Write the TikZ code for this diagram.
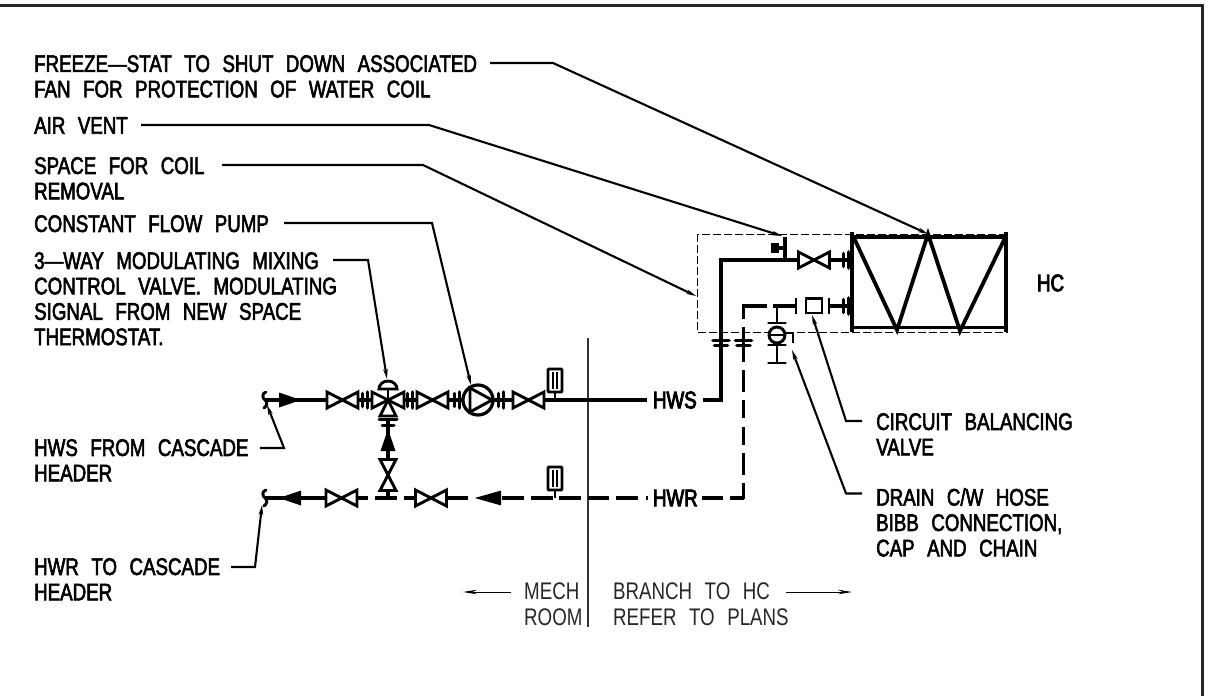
\documentclass[tikz,border=0pt]{standalone}
\usepackage{fontspec}
\usetikzlibrary{arrows.meta}
\newfontfamily\cadfont[FakeStretch=0.78,FakeBold=2.4,WordSpace=2.4]{Liberation Sans}
\newfontfamily\cadheavy[FakeStretch=0.78,FakeBold=3.6,WordSpace=2.4]{Liberation Sans}
\newfontfamily\cadthin[FakeStretch=0.78,WordSpace=2.4]{Liberation Sans}

\tikzset{
	gatevalve/.pic={
		\draw [symline, fill=white] (-15.5,-8) -- (15.5,8) -- (15.5,-8) -- (-15.5,8) -- cycle;
	},
	flange/.pic={
		\draw [line width=3.6pt, line cap=round] (-2.4,-6.5) -- (-2.4,6.5) (2.4,-8) -- (2.4,8);
	},
	flowarrow/.pic={
		\fill (-11,-7.5) -- (11,0) -- (-11,7.5) -- cycle;
	},
	gauge/.pic={
		\draw [symline] (0,0) -- (0,-8);
		\draw [symline, rounded corners=1pt, fill=white] (-7,-8) rectangle (7,-31);
		\draw [line width=1.6pt] (-2,-28) -- (-2,-11) (2,-28) -- (2,-11);
	},
	pipeend/.pic={
		\draw [symline, line cap=round] (1,-8) .. controls (-3,-7) and (-3,-2) .. (0,0) .. controls (3,2) and (2,6) .. (-1,8);
	},
	pumpsym/.pic={
		\draw [line width=3.2pt, fill=white] (0,0) circle (15);
		\draw [symline] (-8,-12) -- (14,0) -- (-8,12) -- cycle;
	},
	mixvalve/.pic={
		% dome, stem and the three ports
		\draw [symline, fill=white] (-16,-8) -- (0,0) -- (-16,8) -- cycle;
		\draw [symline, fill=white] (16,-8) -- (0,0) -- (16,8) -- cycle;
		\draw [symline, fill=white] (-8,16) -- (0,0) -- (8,16) -- cycle;
		\draw [symline] (0,0) -- (0,-11);
		\draw [symline, fill=white] (-9,-11) -- (9,-11) arc (0:180:9 and -8) -- cycle;
	},
	airvent/.pic={
		\draw [line width=3.4pt] (-7,-5) -- (-7,5) (-3,-5) -- (-3,5);
		\draw [line width=4pt] (-7,0) -- (5,0);
	},
	drainsym/.pic={
		\draw [symline, line cap=round] (-8.5,-12) -- (8.5,-12) (-8.5,10) -- (8.5,10) (0,10) -- (0,28) (-8.5,28) -- (8.5,28);
		\draw [symline] (0,-29) -- (0,-12);
		\draw [symline, fill=white] (0,0) circle (8);
		\draw [line width=2pt] (-8,0) -- (8,0);
		\draw [symline] (8,-2) -- (16,-2) -- (16,8);
	},
}

\begin{document}
\begin{tikzpicture}[
		x=1pt,
		y=-1pt,
		symline/.style={
			line width=2.9pt,
		},
		pipe/.style={
			line width=3.4pt,
		},
		coilline/.style={
			line width=3.8pt,
		},
		leader/.style={
			line width=2.1pt,
			-{Stealth[length=10pt,width=4.5pt]},
		},
		thinarrow/.style={
			line width=1pt,
			-{Stealth[length=14pt,width=4.5pt]},
		},
		note/.style={
			anchor=north west,
			inner sep=0pt,
			align=left,
			font=\cadfont\fontsize{24}{25.4}\selectfont,
		},
		pipelabel/.style={
			inner sep=0pt,
			outer xsep=6pt,
			anchor=west,
			font=\cadheavy\fontsize{24}{25.4}\selectfont,
		},
		zonelabel/.style={
			anchor=north west,
			inner sep=0pt,
			align=left,
			text=black!85,
			font=\cadthin\fontsize{24}{25.4}\selectfont,
		},
	]
	\useasboundingbox (0,0) rectangle (1209,696);

	% sheet border
	\draw [line width=3pt, black!85] (0,5) -- (1202,5) -- (1202,696);

	% notes
	\node [note] (freeze) at (34,55) {FREEZE—STAT TO SHUT DOWN ASSOCIATED\\FAN FOR PROTECTION OF WATER COIL};
	\node [note] (vent) at (34,117) {AIR VENT};
	\node [note] (space) at (34,157) {SPACE FOR COIL\\REMOVAL};
	\node [note] (pump) at (34,215) {CONSTANT FLOW PUMP};
	\node [note] (mix) at (34,252) {3—WAY MODULATING MIXING\\CONTROL VALVE. MODULATING\\SIGNAL FROM NEW SPACE\\THERMOSTAT.};
	\node [note] (fromhdr) at (34,439) {HWS FROM CASCADE\\HEADER};
	\node [note] (tohdr) at (34,558) {HWR TO CASCADE\\HEADER};
	\node [note] (cbv) at (876,413) {CIRCUIT BALANCING\\VALVE};
	\node [note] (drain) at (876,488) {DRAIN C/W HOSE\\BIBB CONNECTION,\\CAP AND CHAIN};
	\node [pipelabel] (hc) at (1031,283) {HC};
	\node [pipelabel] (hws) at (647,400) {HWS};
	\node [pipelabel] (hwr) at (647,498) {HWR};
	\node [zonelabel] (mech) at (524,583) {MECH\\ROOM};
	\node [zonelabel] (branch) at (613,583) {BRANCH TO HC\\REFER TO PLANS};

	% room divide
	\coordinate (divtop) at (588,338);
	\coordinate (divbot) at (588,627);
	\draw [line width=1.5pt, black!80] (divtop) -- (divbot);

	% space for coil and coil
	\draw [line width=1pt, dash pattern=on 8pt off 3pt] (697,234) rectangle (1007,332);
	\draw [line width=4.5pt] (852,232) -- (852,332) (1006,232) -- (1006,332);
	\draw [coilline] (852,237) -- (1006,237);
	\draw [line width=3pt] (852,327) -- (1006,327);
	\draw [coilline] (854,238) -- (897,330) -- (928,234) -- (960,331) -- (1005,238);

	% supply
	\coordinate (hwsin) at (265,400);
	\coordinate (hwsknee) at (721,400);
	\coordinate (hwsup) at (721,260);
	\coordinate (coilin) at (850,260);
	\coordinate (venttee) at (785,260);
	\coordinate (venttop) at (785,237);
	\draw [pipe] (hwsin) -- (hws.west);
	\draw [pipe] (hws.east) -- (hwsknee) -- (hwsup) -- (coilin);
	\draw [pipe] (venttee) -- (venttop);
	\pic at (780,248) {airvent};

	\pic at (290,400) {flowarrow};
	\pic at (265,400) {pipeend};
	\pic at (342.5,400) {gatevalve};
	\pic at (365,400) {flange};
	\pic at (388,400) {mixvalve};
	\pic at (410,400) {flange};
	\pic at (432.5,400) {gatevalve};
	\pic at (457,400) {flange};
	\pic at (478,400) {pumpsym};
	\pic at (501,400) {flange};
	\pic at (528.5,400) {gatevalve};
	\pic at (555,400) {gauge};
	\pic at (814,260) {gatevalve};
	\pic at (846,260) {flange};
	\pic [rotate=90] at (721,343) {flange};

	% mixing leg
	\coordinate (legtop) at (388,420);
	\coordinate (legbot) at (388,498);
	\draw [pipe] (legtop) -- (legbot);
	\draw [line width=3pt, line cap=round] (379,419) -- (397,419);
	\draw [line width=3pt, line cap=round] (382,425) -- (394,425);
	\pic [rotate=90] at (388,440) {flowarrow};
	\pic [rotate=90] at (388,475) {gatevalve};
	\draw [symline] (378,491) -- (398,491);

	% return
	\coordinate (hwrout) at (265,498);
	\draw [pipe] (hwrout) -- (326,498);
	\foreach \a/\b in {357/368,375/397,404/415,447/468,502/524,531/553,559/581,588/609,616/638,646/648,702/723,730/744}
		\draw [pipe] (\a,498) -- (\b,498);
	\foreach \a/\b in {305/319,327/362,370/392,400/418,427/445,453/475,483/499}
		\draw [pipe] (743.5,\a) -- (743.5,\b);
	\draw [pipe] (742,306) -- (767,306);
	\draw [pipe] (773,306) -- (796,306);
	\draw [symline] (796,298) -- (796,314);
	\draw [symline] (829,298) -- (829,314);
	\draw [pipe] (829,306) -- (850,306);
	\pic at (846,306) {flange};
	\pic [rotate=90] at (743.5,343) {flange};
	\draw [symline] (806,298.5) rectangle (822,313);
	\pic at (777,335) {drainsym};

	\pic [rotate=180] at (290,498) {flowarrow};
	\pic at (265,498) {pipeend};
	\pic at (341.5,498) {gatevalve};
	\pic at (431,498) {gatevalve};
	\pic [rotate=180, xscale=1.2] at (488,498) {flowarrow};
	\pic at (555,498) {gauge};

	% leaders
	\coordinate (freezea) at (490,63);
	\coordinate (freezeb) at (553,63);
	\coordinate (freezec) at (928,234);
	\draw [leader] (freezea) -- (freezeb) -- (freezec);
	\coordinate (venta) at (141,125);
	\coordinate (ventb) at (429,125);
	\coordinate (ventc) at (782,236);
	\draw [leader] (venta) -- (ventb) -- (ventc);
	\coordinate (spacea) at (222,165);
	\coordinate (spaceb) at (423,165);
	\coordinate (spacec) at (696,296);
	\draw [leader] (spacea) -- (spaceb) -- (spacec);
	\coordinate (pumpa) at (284,223);
	\coordinate (pumpb) at (432,223);
	\coordinate (pumpc) at (471,385);
	\draw [leader] (pumpa) -- (pumpb) -- (pumpc);
	\coordinate (mixa) at (333,260);
	\coordinate (mixb) at (368,260);
	\coordinate (mixc) at (387,379);
	\draw [leader] (mixa) -- (mixb) -- (mixc);
	\coordinate (froma) at (260,448);
	\coordinate (fromb) at (284,448);
	\coordinate (fromc) at (267,405);
	\draw [leader] (froma) -- (fromb) -- (fromc);
	\coordinate (toa) at (231,567);
	\coordinate (tob) at (255,567);
	\coordinate (toc) at (262,505);
	\draw [leader] (toa) -- (tob) -- (toc);
	\coordinate (cbva) at (862,421);
	\coordinate (cbvb) at (846,421);
	\coordinate (cbvc) at (812,315);
	\draw [leader] (cbva) -- (cbvb) -- (cbvc);
	\coordinate (draina) at (862,493.5);
	\coordinate (drainb) at (846,493.5);
	\coordinate (drainc) at (792,350);
	\draw [leader] (draina) -- (drainb) -- (drainc);

	% zone arrows
	\coordinate (mechtail) at (511,592);
	\coordinate (mechtip) at (463,592);
	\coordinate (branchtail) at (786,592);
	\coordinate (branchtip) at (852,592);
	\draw [thinarrow] (mechtail) -- (mechtip);
	\draw [thinarrow] (branchtail) -- (branchtip);
\end{tikzpicture}
\end{document}
